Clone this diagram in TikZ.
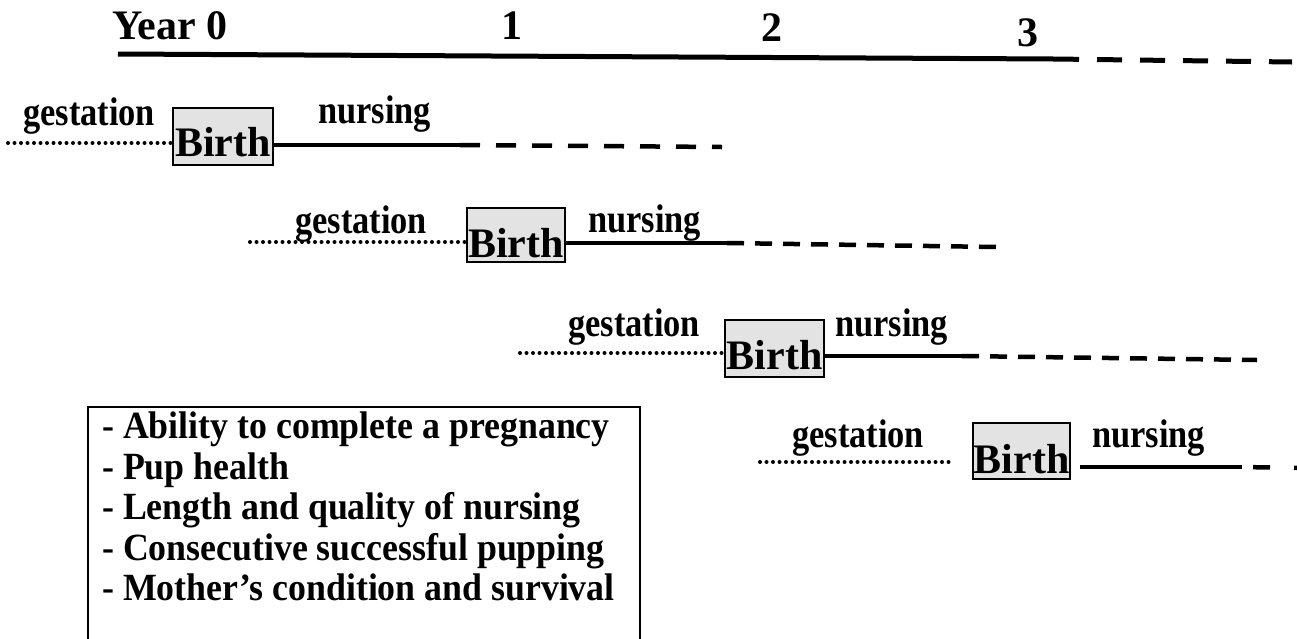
\documentclass[tikz,border=0pt]{standalone}
\usepackage{fontspec}
\setmainfont{Liberation Serif}
\newfontfamily\labfont[FakeStretch=0.86]{Liberation Serif}
\newfontfamily\listfont[FakeStretch=0.93]{Liberation Serif}
\begin{document}
\begin{tikzpicture}[x=1pt,y=-1pt,
  lbl/.style={anchor=base west, inner sep=0pt, font=\labfont\bfseries\fontsize{40}{40}\selectfont},
  yr/.style={anchor=base west, inner sep=0pt, font=\bfseries\fontsize{42}{42}\selectfont},
  num/.style={anchor=base, inner sep=0pt, font=\bfseries\fontsize{42}{42}\selectfont},
  lst/.style={anchor=base west, inner sep=0pt, font=\listfont\bfseries\fontsize{38.5}{40}\selectfont},
  birthbox/.style={draw, line width=2pt, fill=gray!22, inner sep=0pt},
  birthtxt/.style={anchor=base, inner sep=0pt, font=\bfseries\fontsize{42}{42}\selectfont},
  dots/.style={line width=4pt, line cap=round, dash pattern=on 0pt off 6.5pt},
  solidl/.style={line width=4pt},
  dashl/.style={line width=4.5pt, dash pattern=on 17pt off 11pt},
]
\useasboundingbox[fill=white] (0,0) rectangle (1297,638);

% timeline
\node[yr] (y0) at (112,39) {Year 0};
\node[num] (y1) at (512,39) {1};
\node[num] (y2) at (772,41) {2};
\node[num] (y3) at (1028,46) {3};
\coordinate (ta) at (118,54);
\coordinate (tb) at (1054,59);
\coordinate (tc) at (1292,62);
\draw[line width=5pt] (ta) -- (tb);
\draw[line width=5pt, dash pattern=on 25pt off 18pt] (tb) -- (tc);

% row 1
\node[birthbox, minimum width=100pt, minimum height=57pt] (b1) at (223,136.5) {};
\node[birthtxt] (t1) at (223,156) {Birth};
\node[lbl] (g1) at (23,125) {gestation};
\node[lbl] (n1) at (318,123) {nursing};
\coordinate (s1) at (8,143);
\coordinate (e1) at (460,145);
\coordinate (f1) at (722,147);
\draw[dots] (s1) -- (s1 -| b1.west);
\draw[solidl] (b1.east |- e1) -- (e1);
\draw[dashl, dash pattern=on 20pt off 16pt] (e1) -- (f1);

% row 2
\node[birthbox, minimum width=98pt, minimum height=54pt] (b2) at (516,235) {};
\node[birthtxt] (t2) at (516,257) {Birth};
\node[lbl] (g2) at (295,233) {gestation};
\node[lbl] (n2) at (588,232) {nursing};
\coordinate (s2) at (250,242);
\coordinate (e2) at (727,243);
\coordinate (f2) at (997,247);
\draw[dots] (s2) -- (s2 -| b2.west);
\draw[solidl] (b2.east |- e2) -- (e2);
\draw[dashl] (e2) -- (f2);

% row 3
\node[birthbox, minimum width=99pt, minimum height=57pt] (b3) at (774.5,348.5) {};
\node[birthtxt] (t3) at (774.5,369) {Birth};
\node[lbl] (g3) at (568,336) {gestation};
\node[lbl] (n3) at (835,336) {nursing};
\coordinate (s3) at (520,353);
\coordinate (e3) at (962,356);
\coordinate (f3) at (1257,360);
\draw[dots] (s3) -- (s3 -| b3.west);
\draw[solidl] (b3.east |- e3) -- (e3);
\draw[dashl] (e3) -- (f3);

% row 4
\node[birthbox, minimum width=97pt, minimum height=56pt] (b4) at (1021.5,451) {};
\node[birthtxt] (t4) at (1021.5,473) {Birth};
\node[lbl] (g4) at (792,447) {gestation};
\node[lbl] (n4) at (1092,447) {nursing};
\coordinate (s4) at (760,462);
\coordinate (d4) at (953,462);
\coordinate (a4) at (1080,467);
\coordinate (e4) at (1242,467);
\coordinate (f4) at (1300,468);
\draw[dots] (s4) -- (d4);
\draw[solidl] (a4) -- (e4);
\draw[dashl, dash pattern=on 0pt off 11pt on 17pt off 13pt] (e4) -- (f4);

% list box
\node[draw, line width=2pt, inner sep=0pt, minimum width=552pt, minimum height=245pt, anchor=north west] (box) at (87,406) {};
\node[lst] (l1) at (102,438) {- Ability to complete a pregnancy};
\node[lst] (l2) at (102,479) {- Pup health};
\node[lst] (l3) at (102,519) {- Length and quality of nursing};
\node[lst] (l4) at (102,560) {- Consecutive successful pupping};
\node[lst] (l5) at (102,600) {- Mother’s condition and survival};
\end{tikzpicture}
\end{document}
